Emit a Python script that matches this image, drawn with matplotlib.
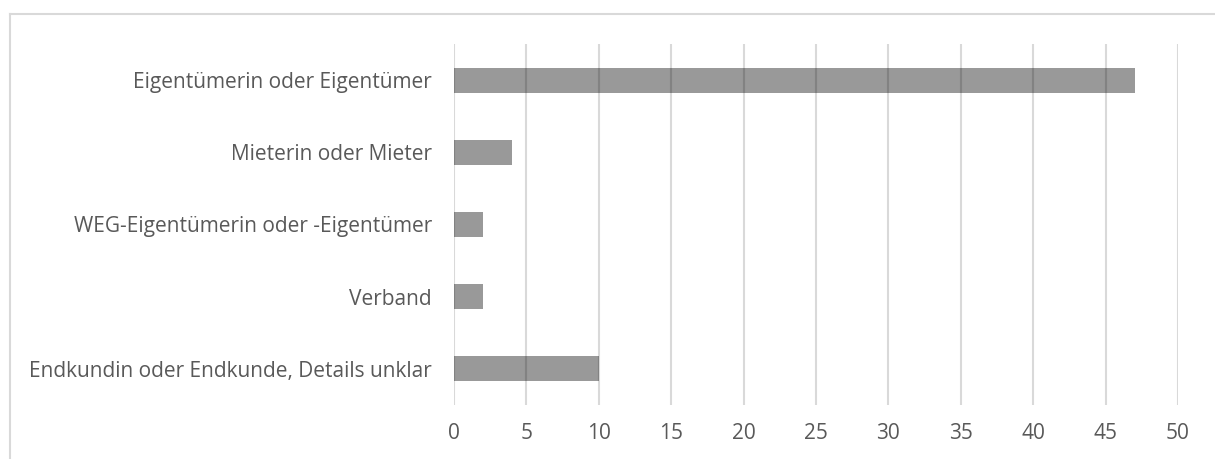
import matplotlib
matplotlib.use("Agg")
import matplotlib.pyplot as plt
from matplotlib.lines import Line2D

categories = [
    "Eigentümerin oder Eigentümer",
    "Mieterin oder Mieter",
    "WEG-Eigentümerin oder -Eigentümer",
    "Verband",
    "Endkundin oder Endkunde, Details unklar",
]
values = [47, 4, 2, 2, 10]
xticks = [0, 5, 10, 15, 20, 25, 30, 35, 40, 45, 50]

plt.rcParams['font.family'] = ['Open Sans', 'DejaVu Sans']

fig = plt.figure(figsize=(12.15, 4.59), dpi=100)
ax = fig.add_axes([454/1215, 1-405/459, (1178-454)/1215, (405-44)/459])

y = list(range(len(categories)))
ax.barh(y, values, height=0.345, color="#999999", zorder=2)
ax.set_ylim(len(categories)-0.5, -0.5)
ax.set_xlim(0, 50)
ax.set_xticks(xticks)
ax.set_yticks(y)
ax.set_yticklabels(categories)
ax.grid(axis="x", color="black", linewidth=1.5, zorder=3, alpha=0.15)
ax.set_axisbelow(False)
for s in ax.spines.values():
    s.set_visible(False)
ax.tick_params(axis="both", length=0, labelsize=15, labelcolor="#595959")
ax.tick_params(axis="y", pad=16)
ax.tick_params(axis="x", pad=13)

# chart border (partial, Excel-style)
fig.add_artist(Line2D([10/1215, 1.0], [1-14/459, 1-14/459], color="#d9d9d9", linewidth=1.5, transform=fig.transFigure))
fig.add_artist(Line2D([10/1215, 10/1215], [0, 1-14/459], color="#d9d9d9", linewidth=1.5, transform=fig.transFigure))

fig.savefig("out.png", dpi=100)
